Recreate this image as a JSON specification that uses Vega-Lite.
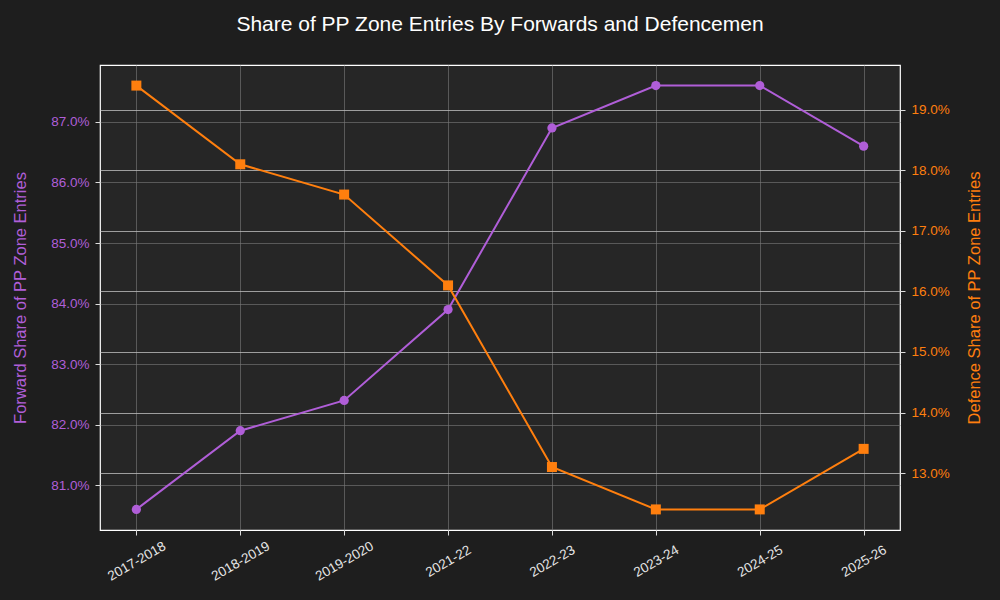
{
  "$schema": "https://vega.github.io/schema/vega-lite/v6.json",
  "autosize": "none",
  "width": 800,
  "height": 465,
  "padding": {"left": 100, "top": 65, "right": 100, "bottom": 70},
  "background": "#1e1e1e",
  "title": {
    "text": "Share of PP Zone Entries By Forwards and Defencemen",
    "color": "#ffffff",
    "font": "Liberation Sans",
    "fontSize": 21,
    "fontWeight": "normal",
    "offset": 30,
    "anchor": "middle"
  },
  "config": {
    "view": {"fill": "#262626", "stroke": "#ffffff", "strokeWidth": 1.2},
    "font": "Liberation Sans",
    "axis": {
      "labelFont": "Liberation Sans",
      "titleFont": "Liberation Sans",
      "labelFontSize": 13.5,
      "titleFontSize": 16.5,
      "titleFontWeight": "normal",
      "domain": false,
      "tickColor": "#dddddd",
      "tickSize": 5
    }
  },
  "data": {
    "values": [
      {"season": "2017-2018", "forward": 80.6, "defence": 19.4},
      {"season": "2018-2019", "forward": 81.9, "defence": 18.1},
      {"season": "2019-2020", "forward": 82.4, "defence": 17.6},
      {"season": "2021-22", "forward": 83.9, "defence": 16.1},
      {"season": "2022-23", "forward": 86.9, "defence": 13.1},
      {"season": "2023-24", "forward": 87.6, "defence": 12.4},
      {"season": "2024-25", "forward": 87.6, "defence": 12.4},
      {"season": "2025-26", "forward": 86.6, "defence": 13.4}
    ]
  },
  "encoding": {
    "x": {
      "field": "season",
      "type": "ordinal",
      "sort": null,
      "scale": {"type": "point", "padding": 0.35},
      "axis": {
        "title": null,
        "labelAngle": -30,
        "labelAlign": "center",
        "labelBaseline": "middle",
        "labelColor": "#e6e6e6",
        "labelPadding": 26,
        "grid": true,
        "gridColor": "#777777",
        "gridOpacity": 0.8,
        "gridWidth": 0.8
      }
    }
  },
  "layer": [
    {
      "encoding": {
        "y": {
          "field": "forward",
          "type": "quantitative",
          "scale": {"domain": [80.26, 87.94], "nice": false, "zero": false},
          "axis": {
            "orient": "left",
            "title": "Forward Share of PP Zone Entries",
            "titleColor": "#b05ed8",
            "labelColor": "#b05ed8",
            "labelPadding": 6,
            "titlePadding": 22,
            "values": [81, 82, 83, 84, 85, 86, 87],
            "labelExpr": "format(datum.value, '.1f') + '%'",
            "grid": true,
            "gridColor": "#777777",
            "gridOpacity": 0.8,
            "gridWidth": 0.8
          }
        }
      },
      "layer": [
        {"mark": {"type": "line", "color": "#b05ed8", "strokeWidth": 2}},
        {"mark": {"type": "point", "shape": "circle", "filled": true, "opacity": 1, "color": "#b05ed8", "size": 85}}
      ]
    },
    {
      "encoding": {
        "y": {
          "field": "defence",
          "type": "quantitative",
          "scale": {"domain": [12.06, 19.74], "nice": false, "zero": false},
          "axis": {
            "orient": "right",
            "title": "Defence Share of PP Zone Entries",
            "titleColor": "#ff7f0e",
            "labelColor": "#ff7f0e",
            "titleAngle": 270,
            "labelPadding": 6,
            "titlePadding": 33,
            "values": [13, 14, 15, 16, 17, 18, 19],
            "labelExpr": "format(datum.value, '.1f') + '%'",
            "grid": true,
            "gridColor": "#bbbbbb",
            "gridOpacity": 0.9,
            "gridWidth": 0.9
          }
        }
      },
      "layer": [
        {"mark": {"type": "line", "color": "#ff7f0e", "strokeWidth": 2}},
        {"mark": {"type": "point", "shape": "square", "filled": true, "opacity": 1, "color": "#ff7f0e", "size": 100}}
      ]
    }
  ],
  "resolve": {"scale": {"y": "independent"}}
}
